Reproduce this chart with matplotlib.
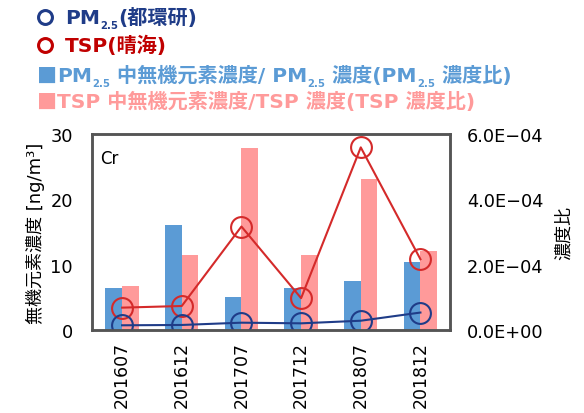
import numpy as np
import matplotlib
matplotlib.use("Agg")
import matplotlib.pyplot as plt
from matplotlib.lines import Line2D
from matplotlib.ticker import FuncFormatter

plt.rcParams["font.family"] = ["DejaVu Sans", "Noto Sans CJK JP"]

# ── data ──────────────────────────────────────────────────────────────────────
periods = ["201607", "201612", "201707", "201712", "201807", "201812"]
pm25_conc = [6.4, 16.1, 5.0, 6.4, 7.5, 10.5]        # bars, left axis
tsp_conc = [6.7, 11.5, 27.8, 11.5, 23.1, 12.1]      # bars, left axis
pm25_ratio = [0.15e-4, 0.16e-4, 0.23e-4, 0.21e-4, 0.29e-4, 0.54e-4]   # right axis
tsp_ratio = [0.69e-4, 0.74e-4, 3.17e-4, 0.98e-4, 5.59e-4, 2.17e-4]    # right axis

BLUE_BAR = "#5b9bd5"
PINK_BAR = "#ff9a9a"
NAVY = "#1f3c88"
RED = "#d42a2a"
FRAME = "#555555"

fig = plt.figure(figsize=(5.84, 4.14), dpi=100)
ax = fig.add_axes([0.158, 0.2, 0.613, 0.474])
ax2 = ax.twinx()

x = np.arange(len(periods))
w = 0.28
ax.bar(x - w / 2, pm25_conc, width=w, color=BLUE_BAR, zorder=1)
ax.bar(x + w / 2, tsp_conc, width=w, color=PINK_BAR, zorder=1)

ax2.plot(x, tsp_ratio, color=RED, lw=1.5, marker="o", ms=15, mfc="none",
         mec=RED, mew=1.5)
ax2.plot(x, pm25_ratio, color=NAVY, lw=1.5, marker="o", ms=15, mfc="none",
         mec=NAVY, mew=1.5)

ax.set_xlim(-0.5, len(periods) - 0.5)
ax.set_ylim(0, 30)
ax2.set_ylim(0, 6e-4)
ax.set_yticks([0, 10, 20, 30])
ax2.set_yticks([0, 2e-4, 4e-4, 6e-4])
ax2.yaxis.set_major_formatter(
    FuncFormatter(lambda v, p: f"{v:.1E}".replace("-", "\u2212")))
ax.set_xticks(x)
ax.set_xticklabels(periods, rotation=90)

for a in (ax, ax2):
    a.tick_params(length=0, labelsize=12.8)
    for s in a.spines.values():
        s.set_color(FRAME)
        s.set_linewidth(1.8)
ax.tick_params(axis="x", labelsize=12.5)
ax.tick_params(axis="y", pad=14)
ax.tick_params(axis="x", pad=8)
ax2.tick_params(axis="y", pad=12)

ax.text(0.022, 0.88, "Cr", transform=ax.transAxes, fontsize=12, va="center")

ax.set_ylabel("無機元素濃度 [ng/m³]", fontsize=13, labelpad=4)
ax2.set_ylabel("濃度比", fontsize=13, labelpad=8)

# ── legend drawn as rich text at top ─────────────────────────────────────────
fig.canvas.draw()
renderer = fig.canvas.get_renderer()
CJK = ["Noto Sans CJK JP", "DejaVu Sans"]


def rich_line(x0, y0, parts, color, size=14.5):
    xp = x0
    for part in parts:
        txt, sub = part[0], part[1]
        fam = part[2] if len(part) > 2 else None
        fs = size * 0.5 if sub else size
        yy = y0 + 8 if sub else y0
        t = fig.text(xp / 584, 1 - yy / 414, txt, color=color, fontsize=fs,
                     fontweight="bold", va="center", ha="left")
        if fam:
            t.set_family(fam)
        bb = t.get_window_extent(renderer)
        xp += bb.width
    return xp


def circle(xc, yc, color):
    fig.add_artist(Line2D([xc / 584], [1 - yc / 414], marker="o", ms=10,
                          mfc="none", mec=color, mew=2.2, ls="none",
                          transform=fig.transFigure))


circle(45, 18, NAVY)
rich_line(65, 18, [("PM", False), ("2.5", True), ("(都環研)", False)], NAVY)
circle(45, 46, "#c00000")
rich_line(65, 46, [("TSP(晴海)", False)], "#c00000")
rich_line(37, 76, [("■", False, CJK), ("PM", False), ("2.5", True),
                   (" 中無機元素濃度/ PM", False), ("2.5", True),
                   (" 濃度(PM", False), ("2.5", True), (" 濃度比)", False)],
          BLUE_BAR)
rich_line(37, 102, [("■", False, CJK),
                    ("TSP 中無機元素濃度/TSP 濃度(TSP 濃度比)", False)], PINK_BAR)

fig.savefig("out.png", dpi=100)
